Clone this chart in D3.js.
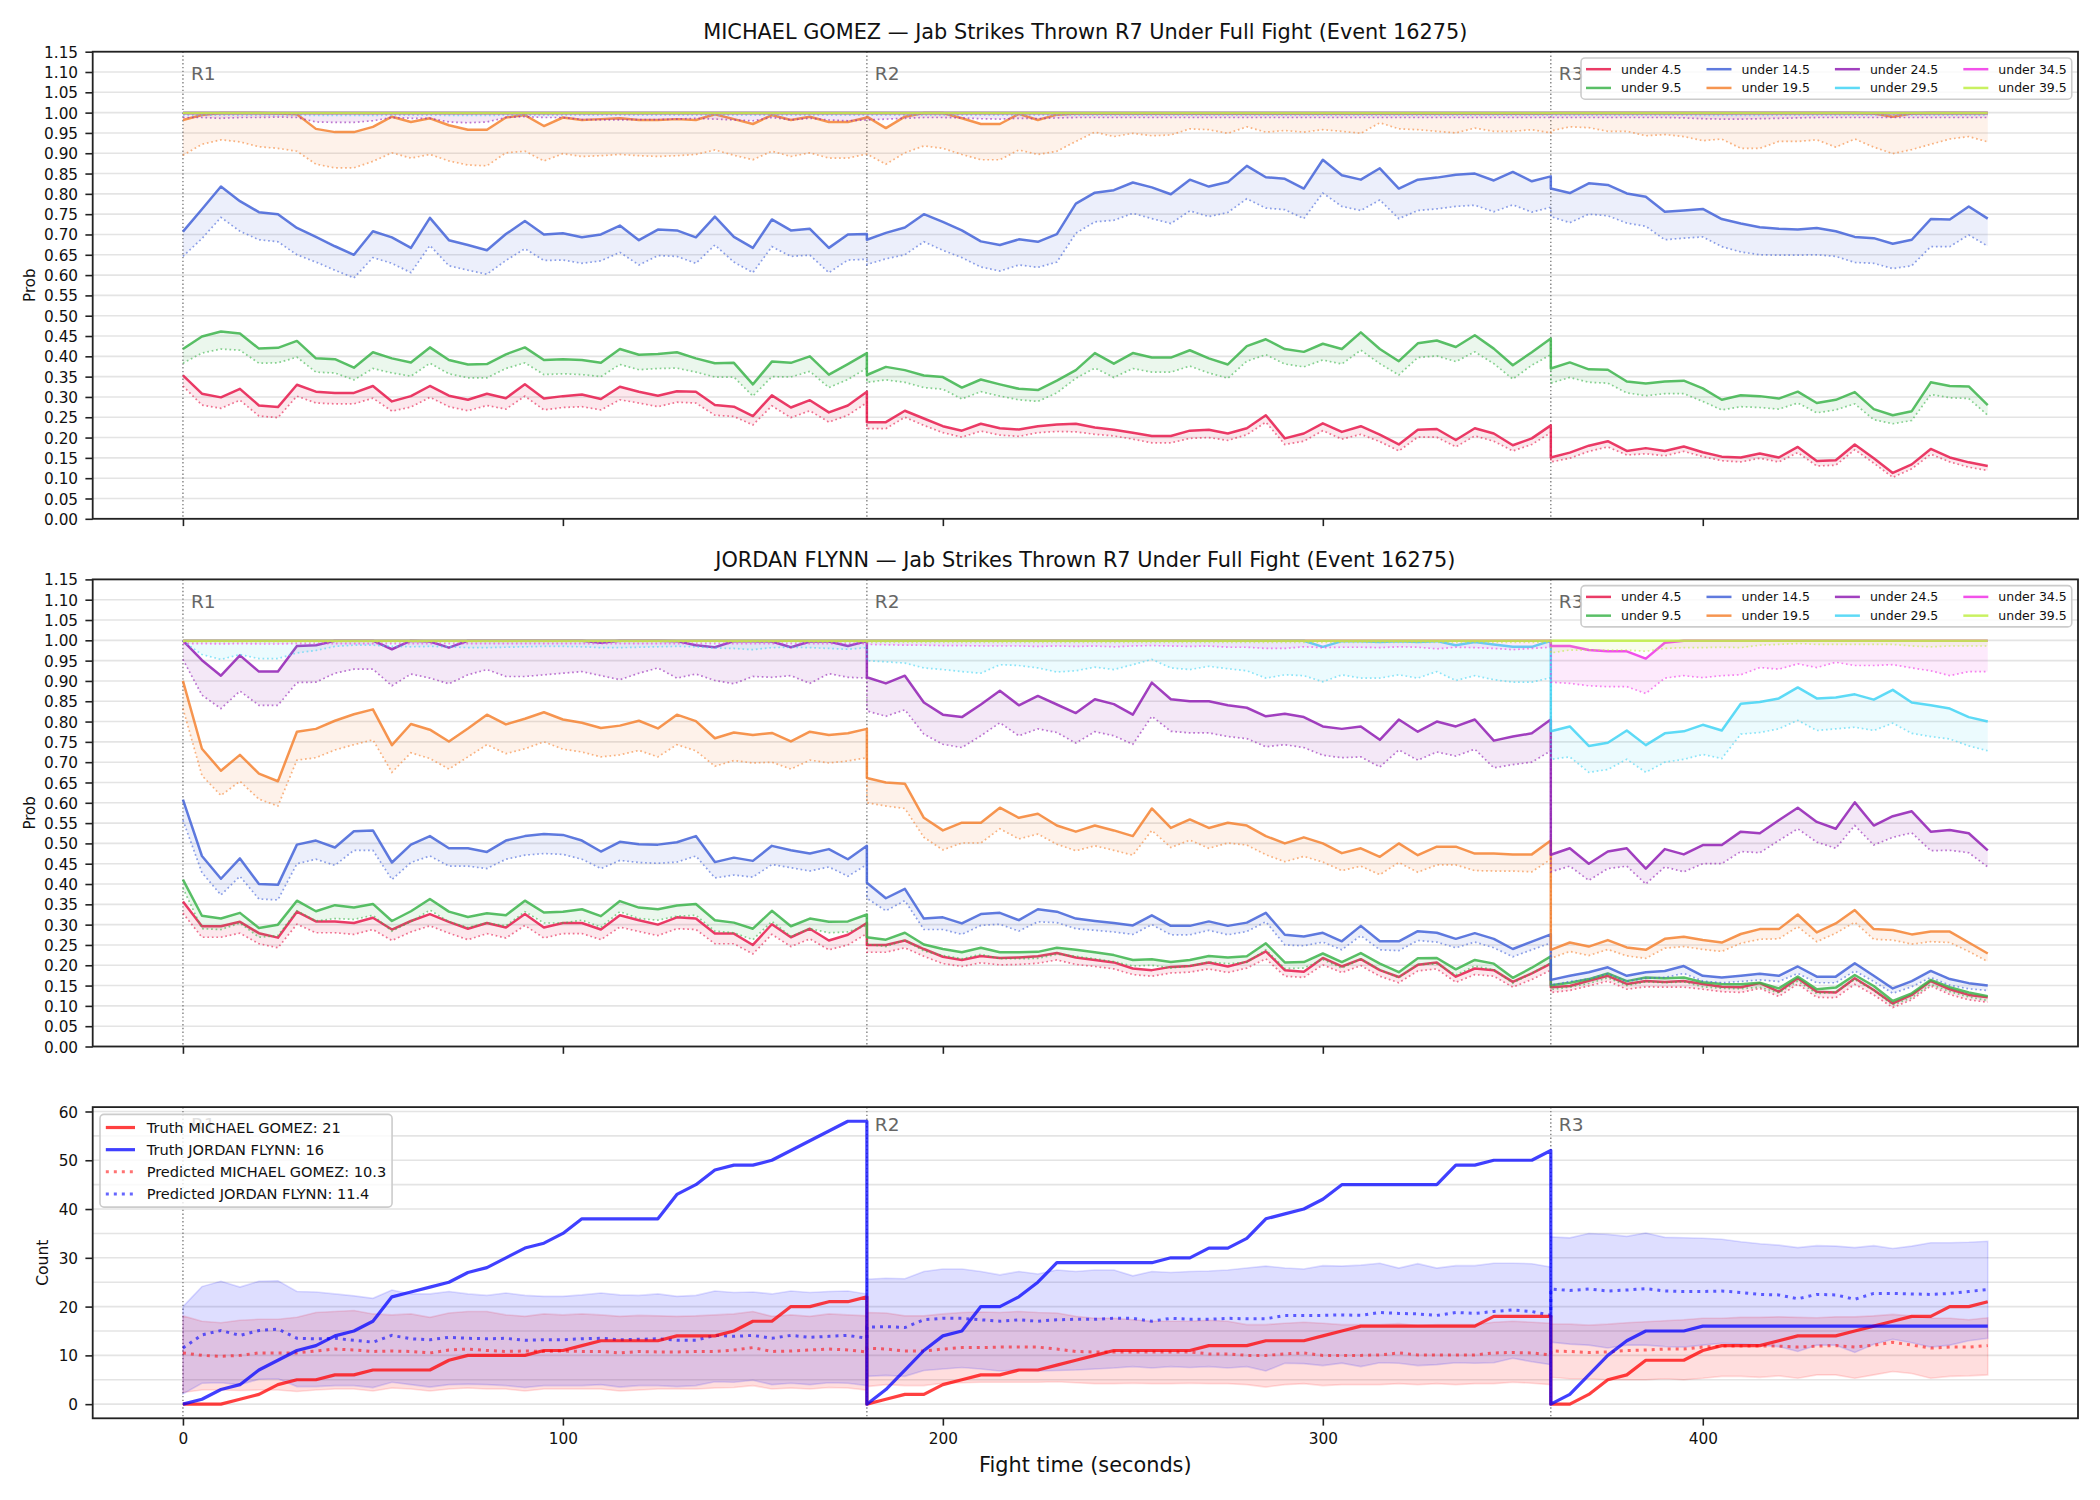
<!DOCTYPE html>
<html><head><meta charset="utf-8">
<script src="https://cdn.jsdelivr.net/npm/d3@7"></script>
<style>body{margin:0;background:#fff}svg{display:block;font-family:"DejaVu Sans",sans-serif}</style>
</head><body><svg id="c" width="2100" height="1500"></svg>
<script>
// ---------------- DATA ----------------
// sample times (s): R1 0..180, R2 180..360, R3 360..475, every 5 s
const roundStarts = [0, 180, 360];
const roundLabels = ['R1', 'R2', 'R3'];
const times = [].concat(d3.range(0, 181, 5), d3.range(180, 361, 5), d3.range(360, 476, 5));
const probTicks = [0,0.05,0.1,0.15,0.2,0.25,0.3,0.35,0.4,0.45,0.5,0.55,0.6,0.65,0.7,0.75,0.8,0.85,0.9,0.95,1,1.05,1.1,1.15];
const countTicks = [0,10,20,30,40,50,60];
const countGrid = [0,5,10,15,20,25,30,35,40,45,50,55,60];
const xTicks = [0,100,200,300,400];
const lineNames = ['under 4.5','under 9.5','under 14.5','under 19.5','under 24.5','under 29.5','under 34.5','under 39.5'];
const lineColors = ['#e6194b','#3cb44b','#4363d8','#f58231','#911eb4','#42d4f4','#f032e6','#bfef45'];

// ---- MICHAEL GOMEZ (top panel) ----
const gomezU4 = [0.353,0.308,0.299,0.320,0.279,0.275,0.330,0.313,0.310,0.310,0.327,0.289,0.302,0.327,0.303,0.293,0.308,0.297,0.331,0.296,0.302,0.306,0.295,0.325,0.313,0.303,0.314,0.313,0.280,0.276,0.253,0.304,0.274,0.292,0.262,0.279,0.313,
 0.238,0.238,0.266,0.247,0.228,0.217,0.234,0.223,0.220,0.228,0.232,0.234,0.225,0.219,0.212,0.204,0.204,0.217,0.219,0.210,0.223,0.255,0.198,0.210,0.235,0.214,0.228,0.207,0.183,0.219,0.221,0.194,0.223,0.210,0.181,0.198,0.230,
 0.151,0.163,0.180,0.191,0.167,0.174,0.167,0.178,0.164,0.153,0.151,0.161,0.151,0.177,0.142,0.144,0.183,0.149,0.113,0.134,0.172,0.151,0.139,0.130];
const gomezU4Low = [0.327,0.280,0.272,0.292,0.253,0.249,0.302,0.285,0.283,0.283,0.297,0.265,0.275,0.299,0.276,0.266,0.279,0.270,0.302,0.268,0.274,0.276,0.268,0.293,0.285,0.276,0.287,0.285,0.255,0.252,0.231,0.278,0.249,0.266,0.238,0.255,0.286,
 0.222,0.222,0.250,0.230,0.212,0.201,0.216,0.206,0.203,0.212,0.215,0.214,0.208,0.204,0.196,0.187,0.187,0.198,0.200,0.193,0.207,0.238,0.183,0.191,0.217,0.196,0.208,0.190,0.167,0.201,0.201,0.177,0.204,0.191,0.167,0.183,0.212,
 0.140,0.149,0.166,0.177,0.157,0.160,0.155,0.166,0.153,0.143,0.140,0.149,0.140,0.163,0.130,0.132,0.170,0.137,0.102,0.123,0.159,0.140,0.127,0.119];
const gomezU9 = [0.418,0.449,0.461,0.456,0.419,0.421,0.438,0.395,0.393,0.372,0.410,0.395,0.385,0.422,0.391,0.380,0.381,0.405,0.422,0.391,0.393,0.391,0.384,0.418,0.404,0.406,0.410,0.395,0.383,0.384,0.331,0.387,0.384,0.400,0.355,0.381,0.408,
 0.354,0.374,0.366,0.353,0.349,0.323,0.343,0.331,0.320,0.317,0.340,0.366,0.408,0.382,0.408,0.397,0.397,0.415,0.395,0.380,0.425,0.442,0.418,0.411,0.431,0.418,0.459,0.418,0.388,0.432,0.439,0.423,0.452,0.419,0.378,0.410,0.444,
 0.370,0.385,0.368,0.367,0.338,0.333,0.338,0.340,0.321,0.293,0.304,0.302,0.296,0.313,0.285,0.293,0.312,0.270,0.255,0.265,0.336,0.327,0.326,0.280];
const gomezU9Low = [0.383,0.408,0.418,0.415,0.383,0.384,0.398,0.361,0.359,0.342,0.370,0.359,0.351,0.383,0.357,0.347,0.347,0.370,0.384,0.355,0.357,0.355,0.350,0.380,0.367,0.370,0.371,0.361,0.349,0.349,0.302,0.350,0.349,0.363,0.323,0.343,0.371,
 0.336,0.342,0.336,0.323,0.319,0.295,0.313,0.302,0.293,0.289,0.310,0.346,0.371,0.348,0.370,0.361,0.361,0.376,0.359,0.346,0.388,0.404,0.381,0.374,0.391,0.381,0.415,0.382,0.354,0.397,0.401,0.387,0.411,0.382,0.344,0.378,0.404,
 0.334,0.348,0.336,0.334,0.310,0.303,0.308,0.308,0.289,0.268,0.276,0.274,0.270,0.285,0.261,0.268,0.283,0.244,0.234,0.242,0.306,0.298,0.296,0.255];
const gomezU14 = [0.707,0.762,0.818,0.782,0.755,0.750,0.716,0.694,0.671,0.650,0.708,0.693,0.667,0.741,0.686,0.674,0.661,0.701,0.733,0.700,0.703,0.693,0.700,0.722,0.686,0.712,0.710,0.693,0.744,0.694,0.667,0.737,0.710,0.714,0.667,0.700,0.701,
 0.687,0.704,0.717,0.750,0.731,0.710,0.683,0.674,0.688,0.682,0.701,0.776,0.803,0.809,0.828,0.816,0.799,0.835,0.818,0.829,0.869,0.841,0.837,0.813,0.884,0.846,0.835,0.863,0.813,0.835,0.840,0.847,0.850,0.833,0.854,0.831,0.843,
 0.813,0.802,0.826,0.822,0.801,0.793,0.756,0.759,0.763,0.738,0.727,0.718,0.714,0.712,0.716,0.708,0.694,0.691,0.677,0.687,0.738,0.737,0.769,0.739];
const gomezU14Low = [0.646,0.690,0.742,0.708,0.687,0.682,0.650,0.632,0.612,0.593,0.643,0.629,0.606,0.673,0.623,0.612,0.602,0.636,0.665,0.636,0.637,0.629,0.635,0.656,0.625,0.648,0.646,0.629,0.674,0.632,0.606,0.670,0.646,0.649,0.606,0.637,0.639,
 0.626,0.640,0.650,0.682,0.661,0.643,0.620,0.610,0.625,0.619,0.632,0.703,0.731,0.735,0.752,0.739,0.727,0.758,0.744,0.754,0.788,0.765,0.761,0.739,0.802,0.769,0.759,0.785,0.739,0.759,0.763,0.769,0.772,0.756,0.773,0.755,0.767,
 0.744,0.729,0.750,0.746,0.728,0.720,0.687,0.691,0.694,0.670,0.657,0.650,0.649,0.649,0.650,0.646,0.631,0.629,0.616,0.623,0.670,0.670,0.699,0.671];
const gomezU19 = [0.982,0.994,0.999,0.999,0.999,0.998,0.996,0.960,0.952,0.952,0.965,0.990,0.977,0.986,0.969,0.958,0.958,0.988,0.994,0.967,0.988,0.982,0.984,0.986,0.982,0.982,0.984,0.982,0.996,0.984,0.972,0.994,0.982,0.990,0.977,0.977,0.988,
 0.990,0.962,0.990,0.999,0.999,0.986,0.972,0.972,0.997,0.982,0.995,0.998,0.998,0.998,0.998,0.998,0.998,0.998,0.998,0.998,0.998,0.998,0.998,0.998,0.998,0.998,0.998,0.998,0.998,0.998,0.998,0.998,0.998,0.998,0.998,0.998,0.998,
 0.999,0.999,0.999,0.999,0.999,0.999,0.999,0.999,0.999,0.999,0.999,0.999,0.999,0.999,0.999,0.999,0.999,0.998,0.990,0.998,0.999,0.999,0.999,0.999];
const gomezU19Low = [0.895,0.922,0.933,0.928,0.916,0.912,0.905,0.873,0.864,0.864,0.880,0.901,0.888,0.897,0.881,0.871,0.869,0.901,0.905,0.881,0.899,0.892,0.894,0.897,0.894,0.892,0.894,0.897,0.908,0.895,0.884,0.905,0.892,0.901,0.888,0.888,0.898,
 0.898,0.873,0.901,0.918,0.912,0.897,0.884,0.884,0.908,0.897,0.905,0.929,0.952,0.941,0.949,0.943,0.945,0.960,0.958,0.949,0.965,0.952,0.956,0.952,0.958,0.954,0.949,0.975,0.960,0.958,0.954,0.950,0.962,0.954,0.954,0.958,0.950,
 0.955,0.965,0.963,0.954,0.954,0.943,0.946,0.941,0.931,0.935,0.912,0.912,0.929,0.929,0.933,0.915,0.935,0.915,0.899,0.909,0.922,0.935,0.941,0.928];
const gomezU24 = [0.999,0.999,0.999,0.999,0.999,0.999,0.999,0.999,0.999,0.999,0.999,0.999,0.999,0.999,0.999,0.999,0.999,0.999,0.999,0.999,0.999,0.999,0.999,0.999,0.999,0.999,0.999,0.999,0.999,0.999,0.999,0.999,0.999,0.999,0.999,0.999,0.999,
 0.999,0.999,0.999,0.999,0.999,0.999,0.999,0.999,0.999,0.999,0.999,0.999,0.999,0.999,0.999,0.999,0.999,0.999,0.999,0.999,0.999,0.999,0.999,0.999,0.999,0.999,0.999,0.999,0.999,0.999,0.999,0.999,0.999,0.999,0.999,0.999,0.999,
 0.999,0.999,0.999,0.999,0.999,0.999,0.999,0.999,0.999,0.999,0.999,0.999,0.999,0.999,0.999,0.999,0.999,0.999,0.999,0.999,0.999,0.999,0.999,0.999];
const gomezU24Low = [0.988,0.988,0.986,0.988,0.988,0.989,0.988,0.977,0.976,0.976,0.980,0.988,0.986,0.986,0.977,0.975,0.977,0.988,0.990,0.988,0.988,0.983,0.982,0.982,0.983,0.983,0.984,0.986,0.984,0.982,0.980,0.988,0.982,0.986,0.982,0.980,0.982,
 0.982,0.984,0.986,0.988,0.988,0.987,0.985,0.984,0.986,0.985,0.987,0.988,0.988,0.988,0.988,0.988,0.988,0.988,0.988,0.988,0.988,0.988,0.988,0.988,0.988,0.988,0.988,0.988,0.988,0.988,0.988,0.988,0.988,0.988,0.988,0.988,0.988,
 0.988,0.988,0.988,0.988,0.988,0.988,0.988,0.987,0.985,0.984,0.984,0.985,0.986,0.987,0.988,0.988,0.988,0.988,0.988,0.988,0.988,0.988,0.988,0.988];
const gomezU29 = gomezU24.slice();
const gomezU29Low = [0.994,0.994,0.994,0.994,0.994,0.994,0.994,0.993,0.993,0.993,0.993,0.994,0.994,0.994,0.993,0.993,0.993,0.994,0.994,0.994,0.994,0.994,0.994,0.994,0.994,0.994,0.994,0.994,0.994,0.994,0.994,0.994,0.994,0.994,0.994,0.994,0.994,
 0.994,0.994,0.994,0.994,0.994,0.994,0.994,0.994,0.994,0.994,0.994,0.994,0.994,0.994,0.994,0.994,0.994,0.994,0.994,0.994,0.994,0.994,0.994,0.994,0.994,0.994,0.994,0.994,0.994,0.994,0.994,0.994,0.994,0.994,0.994,0.994,0.994,
 0.994,0.994,0.994,0.994,0.994,0.994,0.994,0.994,0.993,0.993,0.993,0.993,0.994,0.994,0.994,0.994,0.994,0.994,0.994,0.994,0.994,0.994,0.994,0.994];
const gomezU34 = gomezU24.slice();
const gomezU34Low = [0.996,0.996,0.996,0.996,0.996,0.996,0.996,0.996,0.996,0.996,0.996,0.996,0.996,0.996,0.996,0.996,0.996,0.996,0.996,0.996,0.996,0.996,0.996,0.996,0.996,0.996,0.996,0.996,0.996,0.996,0.996,0.996,0.996,0.996,0.996,0.996,0.996,
 0.996,0.996,0.996,0.996,0.996,0.996,0.996,0.996,0.996,0.996,0.996,0.996,0.996,0.996,0.996,0.996,0.996,0.996,0.996,0.996,0.996,0.996,0.996,0.996,0.996,0.996,0.996,0.996,0.996,0.996,0.996,0.996,0.996,0.996,0.996,0.996,0.996,
 0.996,0.996,0.996,0.996,0.996,0.996,0.996,0.996,0.996,0.996,0.996,0.996,0.996,0.996,0.996,0.996,0.996,0.996,0.996,0.996,0.996,0.996,0.996,0.996];
const gomezU39 = gomezU24.slice();
const gomezU39Low = [0.998,0.998,0.998,0.998,0.998,0.998,0.998,0.998,0.998,0.998,0.998,0.998,0.998,0.998,0.998,0.998,0.998,0.998,0.998,0.998,0.998,0.998,0.998,0.998,0.998,0.998,0.998,0.998,0.998,0.998,0.998,0.998,0.998,0.998,0.998,0.998,0.998,
 0.998,0.998,0.998,0.998,0.998,0.998,0.998,0.998,0.998,0.998,0.998,0.998,0.998,0.998,0.998,0.998,0.998,0.998,0.998,0.998,0.998,0.998,0.998,0.998,0.998,0.998,0.998,0.998,0.998,0.998,0.998,0.998,0.998,0.998,0.998,0.998,0.998,
 0.998,0.998,0.998,0.998,0.998,0.998,0.998,0.998,0.998,0.998,0.998,0.998,0.998,0.998,0.998,0.998,0.998,0.998,0.998,0.998,0.998,0.998,0.998,0.998];

// ---- JORDAN FLYNN (middle panel) ----
const flynnU4 = [0.357,0.296,0.296,0.307,0.279,0.268,0.332,0.308,0.308,0.304,0.317,0.288,0.309,0.326,0.307,0.290,0.304,0.293,0.326,0.293,0.304,0.304,0.288,0.323,0.311,0.300,0.318,0.315,0.278,0.278,0.250,0.301,0.269,0.290,0.261,0.275,0.304,
 0.250,0.250,0.261,0.240,0.221,0.213,0.223,0.218,0.219,0.222,0.230,0.219,0.213,0.207,0.192,0.188,0.196,0.198,0.207,0.197,0.209,0.234,0.188,0.184,0.218,0.197,0.215,0.188,0.171,0.201,0.207,0.172,0.192,0.188,0.159,0.180,0.204,
 0.146,0.149,0.162,0.174,0.154,0.161,0.159,0.161,0.154,0.147,0.146,0.156,0.135,0.168,0.135,0.133,0.168,0.139,0.106,0.127,0.161,0.141,0.127,0.121];
const flynnU4Low = [0.328,0.269,0.269,0.279,0.253,0.243,0.301,0.280,0.280,0.276,0.288,0.261,0.282,0.297,0.279,0.263,0.278,0.267,0.298,0.267,0.278,0.278,0.263,0.294,0.283,0.273,0.290,0.288,0.253,0.253,0.228,0.276,0.246,0.265,0.238,0.250,0.278,
 0.232,0.232,0.243,0.222,0.204,0.197,0.206,0.201,0.202,0.205,0.213,0.202,0.197,0.191,0.177,0.173,0.181,0.183,0.191,0.182,0.193,0.216,0.173,0.170,0.201,0.182,0.199,0.173,0.157,0.186,0.191,0.158,0.177,0.173,0.146,0.165,0.188,
 0.133,0.138,0.149,0.161,0.141,0.147,0.146,0.146,0.141,0.135,0.133,0.143,0.123,0.154,0.121,0.120,0.153,0.127,0.096,0.115,0.149,0.128,0.115,0.109];
const flynnU9 = [0.411,0.322,0.315,0.329,0.292,0.300,0.359,0.333,0.348,0.342,0.351,0.309,0.333,0.363,0.332,0.319,0.328,0.323,0.359,0.330,0.332,0.338,0.321,0.358,0.342,0.338,0.347,0.351,0.311,0.305,0.290,0.334,0.296,0.315,0.307,0.308,0.325,
 0.269,0.263,0.280,0.251,0.240,0.232,0.243,0.232,0.232,0.233,0.243,0.238,0.232,0.225,0.213,0.215,0.208,0.213,0.223,0.219,0.222,0.254,0.207,0.208,0.229,0.208,0.230,0.204,0.183,0.217,0.218,0.190,0.213,0.204,0.169,0.194,0.222,
 0.151,0.157,0.166,0.180,0.161,0.170,0.168,0.170,0.158,0.154,0.153,0.157,0.143,0.172,0.141,0.145,0.176,0.149,0.112,0.131,0.164,0.146,0.133,0.124];
const flynnU9Low = [0.390,0.290,0.288,0.304,0.269,0.273,0.334,0.309,0.315,0.313,0.323,0.284,0.307,0.336,0.307,0.293,0.304,0.297,0.332,0.304,0.304,0.311,0.294,0.332,0.315,0.311,0.321,0.323,0.284,0.280,0.263,0.308,0.271,0.290,0.280,0.282,0.298,
 0.252,0.246,0.262,0.235,0.224,0.216,0.227,0.216,0.216,0.217,0.227,0.222,0.216,0.209,0.198,0.200,0.193,0.198,0.208,0.204,0.207,0.238,0.192,0.193,0.214,0.193,0.215,0.189,0.169,0.202,0.203,0.176,0.198,0.189,0.156,0.180,0.206,
 0.140,0.146,0.155,0.169,0.150,0.159,0.157,0.159,0.147,0.143,0.142,0.146,0.132,0.161,0.130,0.134,0.165,0.138,0.102,0.120,0.153,0.135,0.122,0.113];
const flynnU14 = [0.608,0.469,0.413,0.463,0.400,0.398,0.497,0.507,0.490,0.530,0.532,0.453,0.497,0.518,0.488,0.488,0.479,0.507,0.518,0.523,0.521,0.507,0.480,0.504,0.498,0.497,0.503,0.518,0.454,0.465,0.457,0.494,0.483,0.475,0.486,0.461,0.494,
 0.403,0.365,0.388,0.315,0.318,0.303,0.326,0.329,0.311,0.338,0.332,0.315,0.309,0.304,0.298,0.323,0.297,0.297,0.308,0.297,0.305,0.329,0.275,0.271,0.280,0.259,0.297,0.259,0.259,0.284,0.280,0.265,0.279,0.265,0.240,0.258,0.276,
 0.164,0.174,0.183,0.195,0.174,0.183,0.186,0.198,0.174,0.170,0.174,0.179,0.174,0.197,0.172,0.172,0.205,0.174,0.143,0.161,0.186,0.166,0.156,0.150];
const flynnU14Low = [0.557,0.428,0.373,0.419,0.363,0.361,0.450,0.461,0.446,0.483,0.483,0.411,0.453,0.469,0.444,0.444,0.438,0.461,0.471,0.475,0.473,0.461,0.438,0.458,0.453,0.451,0.454,0.469,0.415,0.422,0.417,0.448,0.440,0.432,0.442,0.419,0.448,
 0.365,0.334,0.359,0.288,0.288,0.276,0.298,0.301,0.284,0.307,0.305,0.290,0.286,0.282,0.276,0.300,0.275,0.275,0.286,0.275,0.283,0.307,0.250,0.248,0.257,0.238,0.273,0.238,0.236,0.261,0.257,0.243,0.257,0.243,0.221,0.238,0.255,
 0.151,0.160,0.166,0.179,0.160,0.168,0.170,0.180,0.161,0.157,0.160,0.164,0.160,0.180,0.157,0.157,0.186,0.160,0.131,0.147,0.170,0.151,0.142,0.138];
const flynnU19 = [0.900,0.733,0.679,0.718,0.672,0.653,0.775,0.782,0.802,0.818,0.830,0.742,0.794,0.780,0.751,0.783,0.817,0.793,0.807,0.823,0.805,0.797,0.784,0.790,0.802,0.783,0.817,0.801,0.759,0.773,0.767,0.772,0.751,0.775,0.767,0.771,0.782,
 0.661,0.650,0.647,0.563,0.532,0.551,0.551,0.588,0.563,0.573,0.544,0.529,0.544,0.532,0.518,0.586,0.538,0.559,0.538,0.551,0.544,0.518,0.500,0.515,0.500,0.476,0.488,0.467,0.500,0.471,0.492,0.492,0.475,0.475,0.473,0.473,0.507,
 0.238,0.256,0.246,0.262,0.244,0.238,0.265,0.270,0.262,0.256,0.277,0.289,0.289,0.325,0.281,0.303,0.336,0.289,0.287,0.276,0.283,0.283,0.256,0.229];
const flynnU19Low = [0.832,0.667,0.618,0.653,0.609,0.592,0.705,0.711,0.730,0.743,0.755,0.675,0.723,0.709,0.683,0.713,0.743,0.721,0.733,0.750,0.732,0.725,0.713,0.718,0.729,0.713,0.743,0.728,0.690,0.704,0.698,0.700,0.683,0.705,0.698,0.703,0.711,
 0.600,0.592,0.586,0.515,0.484,0.501,0.501,0.536,0.511,0.523,0.498,0.482,0.494,0.483,0.471,0.532,0.490,0.508,0.488,0.501,0.496,0.472,0.455,0.468,0.454,0.433,0.444,0.423,0.453,0.429,0.447,0.447,0.433,0.432,0.432,0.430,0.461,
 0.217,0.234,0.224,0.239,0.223,0.217,0.242,0.246,0.239,0.234,0.254,0.264,0.265,0.295,0.258,0.279,0.306,0.264,0.262,0.252,0.258,0.256,0.234,0.209];
const flynnU24 = [0.999,0.951,0.913,0.963,0.923,0.923,0.986,0.988,0.999,0.999,0.999,0.978,0.999,0.997,0.982,0.999,0.999,0.999,0.999,0.999,0.999,0.999,0.994,0.999,0.999,0.999,0.998,0.988,0.983,0.998,0.998,0.997,0.983,0.997,0.997,0.986,0.998,
 0.909,0.894,0.913,0.847,0.817,0.811,0.842,0.876,0.840,0.863,0.842,0.821,0.855,0.843,0.817,0.896,0.855,0.850,0.850,0.840,0.834,0.813,0.819,0.811,0.788,0.782,0.788,0.755,0.805,0.775,0.800,0.788,0.805,0.753,0.763,0.771,0.805,
 0.472,0.488,0.450,0.480,0.488,0.438,0.486,0.473,0.496,0.496,0.529,0.525,0.557,0.588,0.553,0.536,0.601,0.544,0.567,0.579,0.529,0.533,0.525,0.483];
const flynnU24Low = [0.953,0.865,0.832,0.875,0.840,0.840,0.896,0.897,0.919,0.929,0.929,0.888,0.917,0.907,0.893,0.915,0.928,0.911,0.911,0.915,0.919,0.923,0.913,0.903,0.919,0.932,0.907,0.917,0.901,0.893,0.911,0.909,0.913,0.894,0.918,0.909,0.907,
 0.826,0.813,0.829,0.769,0.744,0.736,0.765,0.797,0.765,0.782,0.773,0.747,0.775,0.765,0.744,0.813,0.776,0.772,0.772,0.763,0.758,0.738,0.743,0.736,0.717,0.711,0.713,0.688,0.730,0.705,0.725,0.715,0.732,0.686,0.694,0.700,0.728,
 0.430,0.444,0.409,0.438,0.444,0.400,0.442,0.430,0.450,0.450,0.480,0.477,0.507,0.536,0.503,0.488,0.544,0.496,0.515,0.526,0.482,0.483,0.477,0.442];
const flynnU29 = [0.999,0.999,0.999,0.999,0.999,0.999,0.999,0.999,0.999,0.999,0.999,0.999,0.999,0.999,0.999,0.999,0.999,0.999,0.999,0.999,0.999,0.999,0.999,0.999,0.999,0.999,0.999,0.999,0.999,0.999,0.999,0.999,0.999,0.999,0.999,0.999,0.999,
 0.999,0.999,0.999,0.999,0.999,0.999,0.999,0.999,0.999,0.999,0.999,0.999,0.999,0.999,0.999,0.999,0.999,0.999,0.999,0.999,0.999,0.999,0.999,0.999,0.984,0.998,0.998,0.996,0.998,0.996,0.998,0.988,0.996,0.990,0.984,0.984,0.999,
 0.776,0.788,0.740,0.748,0.778,0.742,0.771,0.776,0.792,0.778,0.844,0.848,0.857,0.884,0.857,0.859,0.867,0.854,0.878,0.847,0.840,0.832,0.811,0.800];
const flynnU29Low = [0.998,0.965,0.953,0.965,0.955,0.955,0.969,0.975,0.985,0.988,0.988,0.985,0.984,0.985,0.984,0.982,0.982,0.983,0.984,0.985,0.985,0.984,0.982,0.982,0.983,0.984,0.985,0.984,0.981,0.980,0.977,0.982,0.983,0.982,0.980,0.978,0.982,
 0.950,0.947,0.944,0.932,0.928,0.923,0.919,0.940,0.938,0.932,0.922,0.925,0.934,0.928,0.940,0.953,0.932,0.928,0.936,0.930,0.925,0.907,0.915,0.913,0.898,0.915,0.907,0.907,0.915,0.907,0.923,0.901,0.913,0.903,0.897,0.897,0.908,
 0.707,0.713,0.675,0.682,0.707,0.675,0.700,0.707,0.719,0.709,0.769,0.773,0.782,0.803,0.778,0.782,0.786,0.778,0.796,0.771,0.763,0.757,0.740,0.728];
const flynnU34 = [0.999,0.999,0.999,0.999,0.999,0.999,0.999,0.999,0.999,0.999,0.999,0.999,0.999,0.999,0.999,0.999,0.999,0.999,0.999,0.999,0.999,0.999,0.999,0.999,0.999,0.999,0.999,0.999,0.999,0.999,0.999,0.999,0.999,0.999,0.999,0.999,0.999,
 0.999,0.999,0.999,0.999,0.999,0.999,0.999,0.999,0.999,0.999,0.999,0.999,0.999,0.999,0.999,0.999,0.999,0.999,0.999,0.999,0.999,0.999,0.999,0.999,0.999,0.999,0.999,0.999,0.999,0.999,0.999,0.999,0.999,0.999,0.999,0.999,0.999,
 0.986,0.986,0.976,0.973,0.973,0.955,0.994,0.999,0.999,0.999,0.999,0.999,0.999,0.999,0.999,0.999,0.999,0.999,0.999,0.999,0.999,0.999,0.999,0.999];
const flynnU34Low = [0.992,0.992,0.991,0.992,0.991,0.991,0.992,0.992,0.992,0.992,0.992,0.992,0.992,0.992,0.992,0.992,0.992,0.992,0.992,0.992,0.992,0.992,0.992,0.992,0.992,0.992,0.992,0.992,0.992,0.992,0.992,0.992,0.992,0.992,0.992,0.992,0.992,
 0.990,0.989,0.988,0.988,0.987,0.987,0.986,0.986,0.986,0.985,0.986,0.985,0.986,0.984,0.986,0.987,0.986,0.985,0.986,0.983,0.983,0.980,0.980,0.984,0.982,0.983,0.983,0.982,0.984,0.983,0.979,0.983,0.982,0.980,0.977,0.980,0.983,
 0.897,0.894,0.888,0.886,0.886,0.869,0.907,0.913,0.908,0.913,0.915,0.933,0.929,0.942,0.933,0.946,0.938,0.938,0.940,0.932,0.925,0.913,0.923,0.923];
const flynnU39 = gomezU24.slice();
const flynnU39Low = [0.996,0.996,0.996,0.996,0.996,0.996,0.996,0.996,0.996,0.996,0.996,0.996,0.996,0.996,0.996,0.996,0.996,0.996,0.996,0.996,0.996,0.996,0.996,0.996,0.996,0.996,0.996,0.996,0.996,0.996,0.996,0.996,0.996,0.996,0.996,0.996,0.996,
 0.995,0.995,0.995,0.995,0.995,0.995,0.995,0.995,0.995,0.995,0.995,0.995,0.995,0.995,0.995,0.995,0.995,0.995,0.995,0.995,0.995,0.995,0.995,0.995,0.995,0.995,0.995,0.995,0.995,0.995,0.995,0.995,0.995,0.995,0.995,0.995,0.995,
 0.969,0.976,0.976,0.976,0.976,0.973,0.980,0.982,0.982,0.983,0.982,0.988,0.990,0.992,0.990,0.990,0.990,0.990,0.990,0.986,0.984,0.986,0.986,0.986];

// ---- Counts (bottom panel) ----
const truthGomez = [0,0,0,1,2,4,5,5,6,6,7,7,7,7,9,10,10,10,10,11,11,12,13,13,13,13,14,14,14,15,17,17,20,20,21,21,22,
 0,1,2,2,4,5,6,6,7,7,8,9,10,11,11,11,11,11,12,12,12,13,13,13,14,15,16,16,16,16,16,16,16,18,18,18,18,
 0,0,2,5,6,9,9,9,11,12,12,12,13,14,14,14,15,16,17,18,18,20,20,21];
const truthFlynn = [0,1,3,4,7,9,11,12,14,15,17,22,23,24,25,27,28,30,32,33,35,38,38,38,38,38,43,45,48,49,49,50,52,54,56,58,58,
 0,3,7,11,14,15,20,20,22,25,29,29,29,29,29,29,30,30,32,32,34,38,39,40,42,45,45,45,45,45,45,49,49,50,50,50,52,
 0,2,6,10,13,15,15,15,16,16,16,16,16,16,16,16,16,16,16,16,16,16,16,16];
const predGomez = [10.5,10.0,9.8,10.0,10.5,10.5,10.5,10.9,11.3,11.1,10.8,10.9,10.8,10.5,11.1,11.3,11.0,10.8,10.9,10.8,10.9,10.8,10.8,10.5,10.8,10.7,10.7,10.8,10.8,11.1,11.6,10.8,10.9,11.1,11.3,11.1,10.7,
 11.5,11.3,10.9,10.9,11.3,11.6,11.6,11.7,11.7,11.7,11.3,10.8,10.7,10.7,10.7,10.7,10.7,10.7,10.3,10.3,10.0,10.0,10.3,10.5,10.0,10.0,10.0,10.1,10.5,10.1,10.1,10.1,10.1,10.5,10.6,10.5,10.1,
 10.9,10.8,10.6,10.7,11.0,11.1,11.3,11.3,11.7,11.9,11.9,11.9,11.9,11.7,11.9,12.0,11.7,12.1,12.7,12.1,11.5,11.7,11.7,12.0];
const predFlynn = [11.5,14.2,15.1,14.1,15.1,15.4,13.5,13.4,13.5,13.1,12.7,14.1,13.4,13.2,13.7,13.5,13.4,13.5,13.1,13.2,13.2,13.4,13.5,13.2,13.3,13.4,13.1,13.1,14.1,13.9,14.1,13.5,14.1,13.7,13.9,14.1,13.5,
 15.8,15.9,15.7,17.3,17.6,17.6,17.3,17.0,17.3,17.0,17.3,17.4,17.4,17.6,17.6,17.0,17.6,17.4,17.4,17.6,17.5,17.5,18.2,18.2,18.2,18.3,18.2,18.8,18.6,18.5,18.2,18.8,18.6,19.0,19.3,19.0,18.2,
 23.6,23.3,23.6,23.2,23.4,23.7,23.2,23.1,23.1,23.2,22.9,22.5,22.4,21.6,22.5,22.4,21.5,22.7,22.7,22.6,22.5,22.7,23.1,23.5];
const bandGomezHi = [18.1,17.0,16.7,17.2,17.4,17.4,17.8,18.8,19.0,19.2,18.5,18.3,18.5,17.8,18.7,19.0,19.0,18.3,18.0,18.5,18.3,18.5,18.3,18.0,18.2,18.1,18.0,18.1,18.3,18.5,19.0,18.0,18.3,18.0,18.5,18.3,18.1,
 18.8,18.7,18.1,18.1,18.5,18.8,18.9,18.8,19.0,18.8,18.7,18.0,17.6,17.6,17.3,17.0,17.0,17.0,17.2,17.0,16.3,16.3,16.6,16.8,16.6,16.3,16.3,16.3,16.5,16.1,16.3,16.3,16.3,16.8,17.0,16.8,16.6,
 16.4,16.4,16.2,16.4,16.7,16.9,17.1,17.3,17.6,17.6,17.8,17.8,17.9,17.8,17.7,17.9,17.9,18.1,18.4,18.1,17.6,17.6,17.3,17.7];
const bandGomezLo = [2.4,2.9,2.9,2.8,2.9,2.9,2.6,2.9,3.1,3.1,2.7,3.3,3.1,2.7,3.1,3.3,3.1,3.1,2.7,3.1,3.1,3.1,3.1,2.7,2.9,3.1,3.1,3.1,3.3,3.4,3.8,3.1,3.3,3.1,3.4,3.3,2.9,
 3.6,4.0,3.8,3.8,4.3,4.4,4.5,4.5,4.5,4.5,4.6,4.4,4.2,4.2,4.3,4.2,4.2,4.3,4.2,4.2,4.0,3.5,4.0,4.2,3.8,4.0,4.0,4.0,4.2,4.0,4.2,4.0,4.2,4.2,4.5,4.3,4.0,
 5.5,5.2,5.2,5.0,5.0,5.0,5.2,5.0,5.3,5.7,5.7,5.5,5.8,5.3,6.0,6.0,5.3,6.0,6.7,6.3,5.3,5.7,5.8,6.0];
const bandFlynnHi = [20.0,24.1,25.2,24.0,25.2,25.3,23.1,23.0,22.6,22.2,21.7,23.4,22.6,22.6,23.1,22.6,22.3,22.8,22.3,22.1,22.1,22.4,22.8,22.4,22.3,22.6,22.1,22.3,23.2,22.9,23.0,22.6,23.2,22.9,23.1,23.2,22.6,
 25.6,25.8,25.7,27.2,27.7,27.7,27.2,26.5,27.2,26.7,27.5,27.2,27.5,27.5,26.3,27.2,27.0,27.2,27.3,27.5,27.9,28.3,27.9,27.7,28.4,28.3,28.5,28.9,27.9,28.8,27.9,28.4,28.4,28.9,28.9,28.8,28.1,
 34.3,34.1,35.0,34.8,34.4,35.1,34.2,34.1,34.0,33.8,33.3,32.9,32.6,32.1,32.5,32.4,32.1,32.5,31.9,32.4,33.1,33.1,33.2,33.4];
const bandFlynnLo = [2.1,4.3,4.4,4.0,5.1,5.2,3.6,3.6,3.8,3.8,3.4,4.5,4.0,3.5,4.0,4.1,4.0,3.8,3.4,3.8,3.8,3.8,4.0,3.5,3.8,3.8,3.6,3.8,4.6,4.5,4.9,4.0,4.3,4.0,4.4,4.3,3.8,
 5.7,5.9,5.7,6.9,7.2,7.5,7.2,6.8,7.0,6.8,6.9,7.0,7.2,7.4,7.7,7.4,7.7,7.5,7.7,7.4,7.7,6.8,8.4,8.3,7.9,8.4,7.7,8.5,8.4,7.9,8.1,8.5,8.4,8.5,9.4,8.7,8.1,
 12.7,12.3,12.1,11.5,12.1,12.1,11.8,11.7,12.1,12.5,12.3,12.1,11.8,10.8,12.1,12.1,10.6,12.3,13.3,12.6,11.7,12.1,13.0,13.5];

// ---------------- DRAWING ----------------
const svg = d3.select('#c');
const FONT = '"DejaVu Sans", sans-serif';
const X0 = 92.7, X1 = 2078;
const panels = [{top:51.7,bottom:518.8},{top:579.4,bottom:1046.5},{top:1107.1,bottom:1418.3}];
const x = d3.scaleLinear().domain([-23.75, 498.75]).range([X0, X1]);
const TICK = 7.3, TICKFS = 15.3;

function measure(txt, fs){
  const t = svg.append('text').attr('font-family',FONT).attr('font-size',fs).text(txt);
  const w = t.node().getComputedTextLength(); t.remove(); return w;
}

function roundMarks(g, P){
  roundStarts.forEach((r,i)=>{
    g.append('line').attr('x1',x(r)).attr('x2',x(r)).attr('y1',P.top).attr('y2',P.bottom)
      .attr('stroke','#808080').attr('stroke-width',1.4).attr('stroke-dasharray','1.4,2.4');
    g.append('text').attr('x',x(r)+8).attr('y',P.top+0.03*(P.bottom-P.top)+14.3)
      .attr('font-family',FONT).attr('font-size',18.5).attr('fill','#666').text(roundLabels[i]);
  });
}

function axes(g, P, y, yTickVals, fmt, showX){
  const ya = d3.axisLeft(y).tickValues(yTickVals).tickFormat(fmt).tickSize(TICK).tickPadding(7.3);
  g.append('g').attr('transform',`translate(${X0},0)`).call(ya).call(a=>{
    a.attr('font-family',FONT).attr('font-size',TICKFS);
    a.select('.domain').remove();
    a.selectAll('line').attr('stroke','#222').attr('stroke-width',1.6);
    a.selectAll('text').attr('fill','#111').attr('dy','0.36em');
  });
  const xa = d3.axisBottom(x).tickValues(xTicks).tickFormat(showX ? d3.format('d') : ()=> '').tickSize(TICK).tickPadding(7.3);
  g.append('g').attr('transform',`translate(0,${P.bottom})`).call(xa).call(a=>{
    a.attr('font-family',FONT).attr('font-size',TICKFS);
    a.select('.domain').remove();
    a.selectAll('line').attr('stroke','#222').attr('stroke-width',1.6);
    a.selectAll('text').attr('fill','#111').attr('dy','0.75em');
  });
  g.append('rect').attr('x',X0).attr('y',P.top).attr('width',X1-X0).attr('height',P.bottom-P.top)
    .attr('fill','none').attr('stroke','#222').attr('stroke-width',1.8);
}

function legend(g, P, items, fs, ncol, anchor){
  const pad = 0.4*fs, hl = 2*fs, hp = 0.8*fs, cs = 2*fs, ls = (anchor==='ul'?0.52:0.5)*fs, bap = 0.5*fs;
  const nrow = Math.ceil(items.length/ncol);
  const cols = [];
  for (let c=0;c<ncol;c++){
    const its = items.slice(c*nrow,(c+1)*nrow);
    const w = d3.max(its, it=>measure(it.label, fs));
    cols.push({its, w: hl+hp+w});
  }
  const W = 2*pad + d3.sum(cols,c=>c.w) + (ncol-1)*cs;
  const H = 2*pad + nrow*fs + (nrow-1)*ls;
  const lx = anchor==='ur' ? X1 - bap - W : X0 + bap;
  const ly = P.top + bap;
  const lg = g.append('g');
  lg.append('rect').attr('x',lx).attr('y',ly).attr('width',W).attr('height',H).attr('rx',4)
    .attr('fill','#fff').attr('fill-opacity',0.8).attr('stroke','#cccccc').attr('stroke-width',1.6);
  let cx = lx + pad;
  cols.forEach(c=>{
    c.its.forEach((it,r)=>{
      const cy = ly + pad + fs/2 + r*(fs+ls);
      lg.append('line').attr('x1',cx).attr('x2',cx+hl).attr('y1',cy).attr('y2',cy)
        .attr('stroke',it.color).attr('stroke-opacity',it.op).attr('stroke-width',it.w)
        .attr('stroke-dasharray',it.dash||null);
      lg.append('text').attr('x',cx+hl+hp).attr('y',cy).attr('dy','0.36em')
        .attr('font-family',FONT).attr('font-size',fs).attr('fill','#111').text(it.label);
    });
    cx += c.w + cs;
  });
}

function probPanel(pi, title, mains, lows){
  const P = panels[pi];
  const y = d3.scaleLinear().domain([0,1.15]).range([P.bottom,P.top]);
  const g = svg.append('g');
  g.append('clipPath').attr('id','cp'+pi).append('rect').attr('x',X0).attr('y',P.top).attr('width',X1-X0).attr('height',P.bottom-P.top);
  g.append('g').selectAll('line').data(probTicks).join('line')
    .attr('x1',X0).attr('x2',X1).attr('y1',d=>y(d)).attr('y2',d=>y(d)).attr('stroke','#e4e4e4').attr('stroke-width',1.6);
  roundMarks(g, P);
  const body = g.append('g').attr('clip-path',`url(#cp${pi})`);
  mains.forEach((m,k)=>{
    const lo = lows[k], col = lineColors[k];
    const pts = times.map((t,i)=>({t, m:m[i], l:lo[i]})).filter(d=>d.m!=null && d.l!=null);
    body.append('path').datum(pts).attr('d', d3.area().x(d=>x(d.t)).y0(d=>y(d.l)).y1(d=>y(d.m)))
      .attr('fill',col).attr('fill-opacity',0.1);
    body.append('path').datum(pts).attr('d', d3.line().x(d=>x(d.t)).y(d=>y(d.m)))
      .attr('fill','none').attr('stroke',col).attr('stroke-opacity',0.85).attr('stroke-width',2.5).attr('stroke-linejoin','round');
    body.append('path').datum(pts).attr('d', d3.line().x(d=>x(d.t)).y(d=>y(d.l)))
      .attr('fill','none').attr('stroke',col).attr('stroke-opacity',0.6).attr('stroke-width',1.7).attr('stroke-dasharray','1.7,2.8');
  });
  axes(g, P, y, probTicks, d3.format('.2f'), false);
  g.append('text').attr('x',(X0+X1)/2).attr('y',P.top-12.5).attr('text-anchor','middle')
    .attr('font-family',FONT).attr('font-size',20.83).attr('fill','#111').text(title);
  g.append('text').attr('transform',`translate(35,${(P.top+P.bottom)/2}) rotate(-90)`).attr('text-anchor','middle')
    .attr('font-family',FONT).attr('font-size',15).attr('fill','#111').text('Prob');
  legend(g, P, lineNames.map((n,k)=>({label:n, color:lineColors[k], op:0.85, w:2.5})), 12.5, 4, 'ur');
}

probPanel(0, 'MICHAEL GOMEZ \u2014 Jab Strikes Thrown R7 Under Full Fight (Event 16275)',
  [gomezU4,gomezU9,gomezU14,gomezU19,gomezU24,gomezU29,gomezU34,gomezU39],
  [gomezU4Low,gomezU9Low,gomezU14Low,gomezU19Low,gomezU24Low,gomezU29Low,gomezU34Low,gomezU39Low]);
probPanel(1, 'JORDAN FLYNN \u2014 Jab Strikes Thrown R7 Under Full Fight (Event 16275)',
  [flynnU4,flynnU9,flynnU14,flynnU19,flynnU24,flynnU29,flynnU34,flynnU39],
  [flynnU4Low,flynnU9Low,flynnU14Low,flynnU19Low,flynnU24Low,flynnU29Low,flynnU34Low,flynnU39Low]);

// bottom count panel
(function(){
  const P = panels[2];
  const y = d3.scaleLinear().domain([-2.9,60.9]).range([P.bottom,P.top]);
  const g = svg.append('g');
  g.append('g').selectAll('line').data(countGrid).join('line')
    .attr('x1',X0).attr('x2',X1).attr('y1',d=>y(d)).attr('y2',d=>y(d)).attr('stroke','#e4e4e4').attr('stroke-width',1.6);
  roundMarks(g, P);
  const RED = '#ff0000', BLUE = '#0000ff';
  const bands = [[bandGomezHi,bandGomezLo,RED],[bandFlynnHi,bandFlynnLo,BLUE]];
  bands.forEach(([hi,lo,col])=>{
    const pts = times.map((t,i)=>({t,a:hi[i],b:lo[i]})).filter(d=>d.a!=null&&d.b!=null);
    g.append('path').datum(pts).attr('d', d3.area().x(d=>x(d.t)).y0(d=>y(d.b)).y1(d=>y(d.a)))
      .attr('fill',col).attr('fill-opacity',0.13).attr('stroke',col).attr('stroke-opacity',0.13).attr('stroke-width',1.6);
  });
  const ln = d3.line().x(d=>x(d.t)).y(d=>y(d.v));
  const mk = arr => times.map((t,i)=>({t,v:arr[i]})).filter(d=>d.v!=null);
  g.append('path').datum(mk(predGomez)).attr('d',ln).attr('fill','none').attr('stroke',RED).attr('stroke-opacity',0.55)
    .attr('stroke-width',3).attr('stroke-dasharray','3,5');
  g.append('path').datum(mk(predFlynn)).attr('d',ln).attr('fill','none').attr('stroke',BLUE).attr('stroke-opacity',0.6)
    .attr('stroke-width',3).attr('stroke-dasharray','3,5');
  g.append('path').datum(mk(truthGomez)).attr('d',ln).attr('fill','none').attr('stroke',RED).attr('stroke-opacity',0.75)
    .attr('stroke-width',3.2).attr('stroke-linejoin','round');
  g.append('path').datum(mk(truthFlynn)).attr('d',ln).attr('fill','none').attr('stroke',BLUE).attr('stroke-opacity',0.75)
    .attr('stroke-width',3.2).attr('stroke-linejoin','round');
  axes(g, P, y, countTicks, d3.format('d'), true);
  g.append('text').attr('transform',`translate(48,${(P.top+P.bottom)/2}) rotate(-90)`).attr('text-anchor','middle')
    .attr('font-family',FONT).attr('font-size',15.5).attr('fill','#111').text('Count');
  g.append('text').attr('x',(X0+X1)/2).attr('y',1471.5).attr('text-anchor','middle')
    .attr('font-family',FONT).attr('font-size',20.83).attr('fill','#111').text('Fight time (seconds)');
  legend(g, P, [
    {label:'Truth MICHAEL GOMEZ: 21', color:RED, op:0.75, w:3.2},
    {label:'Truth JORDAN FLYNN: 16', color:BLUE, op:0.75, w:3.2},
    {label:'Predicted MICHAEL GOMEZ: 10.3', color:RED, op:0.55, w:3, dash:'3,5'},
    {label:'Predicted JORDAN FLYNN: 11.4', color:BLUE, op:0.6, w:3, dash:'3,5'}
  ], 14.58, 1, 'ul');
})();
</script>
</body></html>
